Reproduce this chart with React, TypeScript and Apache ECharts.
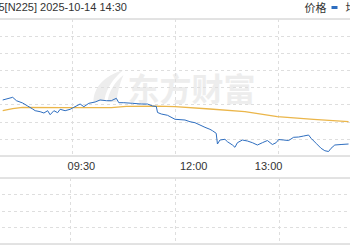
import React, { useEffect, useRef } from 'react';
import * as echarts from 'echarts';

// ---- data ----
const titleText = '5[N225] 2025-10-14 14:30';
const legendNames = ['价格', '均价'];
const tickLabels = ['09:30', '12:00', '13:00'];
const sessionBreaks = ['08:00', '10:30', '11:30', '14:30'];

const priceTimes = [
  '08:27', '08:35', '08:38', '08:43', '08:47', '08:51', '08:53', '08:57', '09:00', '09:03',
  '09:05', '09:08', '09:11', '09:13', '09:17', '09:21', '09:24', '09:29', '09:32', '09:36',
  '09:41', '09:45', '09:50', '09:54', '09:58', '10:00', '10:04', '10:11', '10:18', '10:23',
  '10:27', '10:30', '11:31', '11:34', '11:39', '11:45', '11:53', '11:57', '12:01', '12:05',
  '12:09', '12:13', '12:15', '12:18', '12:19', '12:21', '12:25', '12:27', '12:31', '12:33',
  '12:35', '12:39', '12:43', '12:47', '12:51', '12:55', '12:59', '13:03', '13:06', '13:08',
  '13:12', '13:16', '13:20', '13:24', '13:28', '13:32', '13:34', '13:38', '13:42', '13:45',
  '13:48', '13:50', '13:53', '13:58', '14:04',
];
const priceValues = [
  47650, 47725, 47630, 47565, 47481, 47397, 47350, 47322, 47285, 47350,
  47237, 47350, 47294, 47389, 47350, 47389, 47445, 47537, 47462, 47557,
  47593, 47650, 47630, 47630, 47697, 47574, 47574, 47557, 47537, 47537,
  47481, 47470, 47300, 47257, 47221, 47109, 47089, 47041, 47013, 46949,
  46884, 46828, 46789, 46716, 46416, 46528, 46548, 46481, 46388, 46324,
  46453, 46528, 46500, 46453, 46388, 46453, 46514, 46402, 46453, 46542,
  46528, 46514, 46604, 46612, 46640, 46668, 46576, 46436, 46296, 46228,
  46206, 46296, 46388, 46402, 46416,
];

const avgTimes = ['08:27', '08:35', '08:43', '09:15', '09:54', '10:06', '10:30', '11:45', '12:13', '12:41', '13:07', '13:36', '14:04'];
const avgValues = [47350, 47406, 47445, 47434, 47434, 47473, 47476, 47462, 47397, 47322, 47181, 47109, 47041];

const priceMin = 46080;
const priceMax = 49920;
const priceStep = 480;

// ---- helpers ----
const toClock = (s: string) => {
  const [h, m] = s.split(':').map(Number);
  return h * 60 + m;
};
const openT = toClock(sessionBreaks[0]);
const amEnd = toClock(sessionBreaks[1]);
const pmStart = toClock(sessionBreaks[2]);
const closeT = toClock(sessionBreaks[3]);
const amLen = amEnd - openT;
const totalLen = amLen + (closeT - pmStart);
const toAxis = (s: string) => {
  const t = toClock(s);
  return t <= amEnd ? t - openT : amLen + (t - pmStart);
};

const FONT = '"Liberation Sans", Arial, "Noto Sans CJK SC", sans-serif';
const BLUE = '#2e6ec0';
const YELLOW = '#ebb64a';
const GRID_LINE = '#dedede';
const WATER = '#ededed';

// the full chart is wider than the window: it runs from x=-34.5 to x=383.5
const OFFSET = 34.5;
const FULL_W = 418;

echarts.graphic.registerShape(
  'emLeafA',
  echarts.graphic.extendPath('M0 32 C0 18 10 6 30 0 C20 8 13 18 11 30 Z', {})
);
echarts.graphic.registerShape(
  'emLeafB',
  echarts.graphic.extendPath('M14 32 C15 22 21 12 30 5 C26 14 24 22 23 32 Z', {})
);

export default function App() {
  const ref = useRef<HTMLDivElement>(null);

  useEffect(() => {
    if (!ref.current) return;
    const chart = echarts.init(ref.current, undefined, { renderer: 'svg' });
    const labelMap: Record<number, string> = {};
    tickLabels.forEach((l) => (labelMap[toAxis(l)] = l));

    const splitX = {
      show: true,
      showMinLine: false,
      showMaxLine: false,
      lineStyle: { color: GRID_LINE, type: [3, 3], width: 1 },
    };

    chart.setOption({
      animation: false,
      backgroundColor: '#ffffff',
      textStyle: { fontFamily: FONT },
      title: {
        text: titleText,
        left: OFFSET - 2,
        top: 1,
        padding: 0,
        textStyle: { fontSize: 11, fontWeight: 'normal', color: '#333', fontFamily: FONT },
      },
      legend: {
        data: legendNames,
        orient: 'horizontal',
        left: OFFSET + 304,
        top: 2,
        padding: 0,
        align: 'right',
        icon: 'rect',
        itemWidth: 6,
        itemHeight: 3,
        itemGap: 8,
        textStyle: { fontSize: 11, color: '#333', fontFamily: FONT },
      },
      graphic: [
        {
          type: 'emLeafA',
          x: OFFSET + 93,
          y: 70,
          silent: true,
          z: 0,
          style: { fill: WATER },
        },
        {
          type: 'emLeafB',
          x: OFFSET + 93,
          y: 70,
          silent: true,
          z: 0,
          style: { fill: WATER },
        },
        {
          type: 'text',
          x: OFFSET + 127,
          y: 87,
          z: 0,
          silent: true,
          style: {
            text: '东方财富',
            font: 'bold 32px "Noto Sans CJK SC", sans-serif',
            fill: WATER,
            verticalAlign: 'middle',
          },
        },
      ],
      grid: [
        { left: 0, right: 0, top: 19, height: 137, show: true, borderColor: '#c6c6c6', borderWidth: 1 },
        { left: 0, right: 0, top: 178, height: 66, show: true, borderColor: '#c6c6c6', borderWidth: 1 },
      ],
      xAxis: [
        {
          type: 'value', gridIndex: 0, position: 'bottom', min: 0, max: totalLen, interval: totalLen / 4,
          axisLine: { show: false }, axisTick: { show: false }, axisLabel: { show: false }, splitLine: splitX,
        },
        {
          type: 'value', gridIndex: 0, position: 'bottom', min: 0, max: totalLen, interval: 30,
          axisLine: { show: false }, axisTick: { show: false }, splitLine: { show: false },
          axisLabel: {
            show: true, margin: 4, fontSize: 11, color: '#333', fontFamily: FONT,
            formatter: (v: number) => labelMap[Math.round(v)] || '',
          },
        },
        {
          type: 'value', gridIndex: 1, position: 'bottom', min: 0, max: totalLen, interval: totalLen / 4,
          axisLine: { show: false }, axisTick: { show: false }, axisLabel: { show: false }, splitLine: splitX,
        },
      ],
      yAxis: [
        {
          type: 'value', gridIndex: 0, min: priceMin, max: priceMax, interval: priceStep,
          axisLine: { show: false }, axisTick: { show: false }, axisLabel: { show: false },
          splitLine: { show: true, showMinLine: false, showMaxLine: false, lineStyle: { color: GRID_LINE, type: [3, 3] } },
        },
        {
          type: 'value', gridIndex: 1, min: 0, max: 4, interval: 1,
          axisLine: { show: false }, axisTick: { show: false }, axisLabel: { show: false },
          splitLine: { show: true, showMinLine: false, showMaxLine: false, lineStyle: { color: GRID_LINE, type: [3, 3] } },
        },
      ],
      series: [
        {
          name: legendNames[0],
          type: 'line',
          xAxisIndex: 0,
          yAxisIndex: 0,
          symbol: 'none',
          lineStyle: { color: BLUE, width: 1 },
          itemStyle: { color: BLUE },
          data: priceTimes.map((t, i) => [toAxis(t), priceValues[i]]),
          z: 3,
        },
        {
          name: legendNames[1],
          type: 'line',
          xAxisIndex: 0,
          yAxisIndex: 0,
          symbol: 'none',
          lineStyle: { color: YELLOW, width: 1.3 },
          itemStyle: { color: YELLOW },
          data: avgTimes.map((t, i) => [toAxis(t), avgValues[i]]),
          z: 2,
        },
      ],
    });
    return () => chart.dispose();
  }, []);

  return (
    <div
      ref={ref}
      style={{ position: 'fixed', left: -OFFSET, top: 0, width: FULL_W, height: 250, background: '#fff' }}
    />
  );
}
